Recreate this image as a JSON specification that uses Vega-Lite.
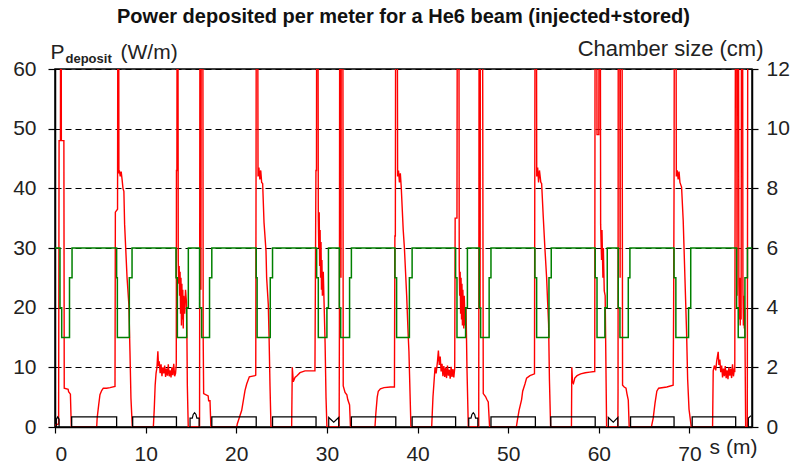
{
"$schema":"https://vega.github.io/schema/vega-lite/v6.json",
"width":697,"height":358,
"autosize":{"type":"none"},
"padding":{"left":55,"top":69,"right":44,"bottom":43},
"background":"white",
"config":{"font":"Liberation Sans","view":{"stroke":"#000","strokeWidth":1.5},
"axis":{"labelFont":"Liberation Sans","titleFont":"Liberation Sans","labelColor":"#222","titleColor":"#222","labelFontSize":21,"domainColor":"#000","tickColor":"#000","domainWidth":1.5,"tickWidth":1.2}},
"title":{"text":"Power deposited per meter for a He6 beam (injected+stored)","fontSize":20,"fontWeight":"bold","font":"Liberation Sans","color":"#111","anchor":"middle","offset":10},
"datasets":{
"red":[
{"s":0,"p":0.3},{"s":0.4,"p":0.5},{"s":0.45,"p":48},{"s":0.6,"p":48},{"s":0.62,"p":90},{"s":0.68,"p":90},{"s":0.7,"p":48},{"s":0.98,"p":48},{"s":1.02,"p":6.5},{"s":1.45,"p":6.3},{"s":1.5,"p":5.9},{"s":1.7,"p":5.5},{"s":1.8,"p":0},
{"s":4.6,"p":0},{"s":4.65,"p":1.5},{"s":4.82,"p":3.7},{"s":4.96,"p":5.4},{"s":5.15,"p":6.1},{"s":5.33,"p":6.5},{"s":5.7,"p":6.5},{"s":6.07,"p":6.6},{"s":6.62,"p":6.8},
{"s":6.66,"p":36},{"s":6.9,"p":36.5},{"s":6.95,"p":90},{"s":7.02,"p":90},{"s":7.05,"p":42.5},{"s":7.1,"p":43},{"s":7.2,"p":42},{"s":7.3,"p":42.8},{"s":7.4,"p":41.5},{"s":7.5,"p":40},{"s":7.6,"p":39.5},{"s":7.68,"p":34},{"s":7.8,"p":30},{"s":7.95,"p":25},{"s":8.15,"p":20.5},{"s":8.27,"p":12.7},{"s":8.38,"p":4.8},{"s":8.53,"p":0},
{"s":10.85,"p":0},{"s":10.95,"p":3},{"s":11.05,"p":7},{"s":11.15,"p":9},{"s":11.25,"p":10},{"s":11.35,"p":12.7},{"s":11.42,"p":10.2},{"s":11.5,"p":11},{"s":11.6,"p":9},{"s":11.7,"p":10.5},{"s":11.8,"p":8.5},{"s":11.9,"p":10},{"s":12.0,"p":9},{"s":12.1,"p":10.3},{"s":12.2,"p":8.4},{"s":12.3,"p":9.8},{"s":12.4,"p":8.6},{"s":12.5,"p":10.5},{"s":12.6,"p":8.5},{"s":12.7,"p":9.5},{"s":12.8,"p":8.3},{"s":12.9,"p":10},{"s":13.0,"p":8.7},{"s":13.1,"p":10.6},{"s":13.2,"p":8.5},{"s":13.3,"p":9},{"s":13.38,"p":10.5},
{"s":13.4,"p":43},{"s":13.45,"p":43},{"s":13.48,"p":90},{"s":13.55,"p":90},{"s":13.6,"p":28},{"s":13.65,"p":24},{"s":13.7,"p":27},{"s":13.75,"p":22},{"s":13.8,"p":26},{"s":13.85,"p":19},{"s":13.9,"p":25},{"s":13.95,"p":17},{"s":14.0,"p":24},{"s":14.05,"p":18},{"s":14.1,"p":23},{"s":14.15,"p":16.5},{"s":14.2,"p":22},{"s":14.3,"p":19},{"s":14.4,"p":23},{"s":14.5,"p":21},{"s":14.55,"p":16},{"s":14.6,"p":7},{"s":14.7,"p":0},
{"s":15.95,"p":0},{"s":16.0,"p":90},{"s":16.05,"p":90},{"s":16.1,"p":23},{"s":16.15,"p":90},{"s":16.3,"p":90},{"s":16.35,"p":15},{"s":16.4,"p":5.6},{"s":16.9,"p":5.2},{"s":16.95,"p":4.4},{"s":17.1,"p":4.4},{"s":17.2,"p":0},
{"s":20.05,"p":0},{"s":20.11,"p":0.5},{"s":20.6,"p":2.8},{"s":20.96,"p":6.1},{"s":21.15,"p":7.2},{"s":21.44,"p":8.4},{"s":22.06,"p":8.6},{"s":22.15,"p":8.7},
{"s":22.18,"p":40},{"s":22.22,"p":90},{"s":22.35,"p":90},{"s":22.4,"p":42},{"s":22.5,"p":43.5},{"s":22.6,"p":41.5},{"s":22.7,"p":43},{"s":22.8,"p":41},{"s":22.91,"p":40.8},{"s":23.06,"p":34.3},{"s":23.28,"p":29.5},{"s":23.35,"p":25},{"s":23.53,"p":20.6},{"s":23.62,"p":15},{"s":23.72,"p":7},{"s":23.83,"p":0},
{"s":26.11,"p":0},{"s":26.18,"p":10},{"s":26.29,"p":7.6},{"s":26.48,"p":8.3},{"s":26.7,"p":8.6},{"s":27.03,"p":9.1},{"s":27.58,"p":9.4},{"s":28.68,"p":9.4},
{"s":28.79,"p":43},{"s":28.85,"p":43},{"s":28.88,"p":90},{"s":29.0,"p":90},{"s":29.05,"p":35},{"s":29.1,"p":30},{"s":29.15,"p":36},{"s":29.2,"p":27},{"s":29.25,"p":33},{"s":29.3,"p":25},{"s":29.35,"p":31},{"s":29.4,"p":23},{"s":29.45,"p":28},{"s":29.5,"p":22},{"s":29.6,"p":26},{"s":29.7,"p":20},{"s":29.8,"p":14},{"s":29.9,"p":5},{"s":30.0,"p":0},
{"s":31.35,"p":0},{"s":31.38,"p":17},{"s":31.42,"p":90},{"s":31.5,"p":90},{"s":31.55,"p":25},{"s":31.6,"p":90},{"s":31.75,"p":90},{"s":31.8,"p":6.9},{"s":32.0,"p":5.8},{"s":32.2,"p":5.4},{"s":32.3,"p":4.6},{"s":32.5,"p":3.7},{"s":32.6,"p":0},
{"s":35.3,"p":0},{"s":35.4,"p":2.3},{"s":35.55,"p":5},{"s":35.67,"p":6.0},{"s":35.9,"p":6.4},{"s":36.3,"p":6.6},{"s":37.0,"p":6.7},{"s":37.45,"p":6.7},
{"s":37.5,"p":32},{"s":37.55,"p":32},{"s":37.6,"p":90},{"s":37.75,"p":90},{"s":37.8,"p":42},{"s":37.9,"p":43},{"s":38.0,"p":41},{"s":38.1,"p":42.5},{"s":38.2,"p":40.2},{"s":38.42,"p":33},{"s":38.55,"p":30},{"s":38.8,"p":22},{"s":38.95,"p":16},{"s":39.05,"p":12.6},{"s":39.27,"p":0},
{"s":41.56,"p":0},{"s":41.7,"p":5},{"s":41.93,"p":10},{"s":42.05,"p":9},{"s":42.2,"p":11},{"s":42.3,"p":12.8},{"s":42.4,"p":10.4},{"s":42.5,"p":11.8},{"s":42.6,"p":9.3},{"s":42.7,"p":10.6},{"s":42.8,"p":8.5},{"s":42.9,"p":10.2},{"s":43.0,"p":8.4},{"s":43.1,"p":9.9},{"s":43.2,"p":8.2},{"s":43.3,"p":10.3},{"s":43.4,"p":8.6},{"s":43.5,"p":9.6},{"s":43.6,"p":8.1},{"s":43.7,"p":10.1},{"s":43.8,"p":8.4},{"s":43.9,"p":9.7},{"s":44.0,"p":8.3},{"s":44.1,"p":9.8},
{"s":44.15,"p":35},{"s":44.35,"p":35},{"s":44.4,"p":90},{"s":44.55,"p":90},{"s":44.6,"p":27},{"s":44.65,"p":22},{"s":44.7,"p":26},{"s":44.75,"p":19},{"s":44.8,"p":25},{"s":44.85,"p":18},{"s":44.9,"p":24},{"s":44.95,"p":17},{"s":45.0,"p":23},{"s":45.1,"p":16.5},{"s":45.15,"p":22},{"s":45.25,"p":17},{"s":45.35,"p":20},{"s":45.45,"p":10},{"s":45.6,"p":0},
{"s":46.75,"p":0},{"s":46.8,"p":90},{"s":46.85,"p":90},{"s":46.9,"p":20},{"s":46.95,"p":90},{"s":47.15,"p":90},{"s":47.25,"p":5.6},{"s":47.5,"p":5.1},{"s":47.65,"p":4.6},{"s":47.8,"p":4.2},{"s":47.95,"p":0},
{"s":50.9,"p":0},{"s":51.0,"p":1},{"s":51.2,"p":2.8},{"s":51.48,"p":4.6},{"s":51.6,"p":6},{"s":51.85,"p":7.2},{"s":52.03,"p":8.2},{"s":52.4,"p":8.6},{"s":52.9,"p":8.9},
{"s":52.93,"p":36},{"s":52.98,"p":90},{"s":53.1,"p":90},{"s":53.15,"p":42},{"s":53.25,"p":43.5},{"s":53.35,"p":41},{"s":53.45,"p":43},{"s":53.6,"p":41},{"s":53.69,"p":40.8},{"s":53.87,"p":35.2},{"s":54.05,"p":30},{"s":54.24,"p":25},{"s":54.35,"p":21},{"s":54.46,"p":17.2},{"s":54.55,"p":8},{"s":54.68,"p":0},
{"s":56.98,"p":0},{"s":57.02,"p":10},{"s":57.1,"p":7.5},{"s":57.2,"p":7.3},{"s":57.35,"p":8.2},{"s":57.6,"p":8.6},{"s":58.0,"p":8.9},{"s":58.5,"p":9.1},{"s":59.0,"p":9.2},{"s":59.5,"p":9.3},
{"s":59.55,"p":9.3},{"s":59.6,"p":90},{"s":59.75,"p":90},{"s":59.8,"p":49},{"s":60.0,"p":49},{"s":60.05,"p":90},{"s":60.15,"p":90},{"s":60.2,"p":34},{"s":60.3,"p":28},{"s":60.35,"p":33},{"s":60.45,"p":25},{"s":60.5,"p":30},{"s":60.6,"p":22.8},{"s":60.7,"p":22},{"s":60.8,"p":8},{"s":60.86,"p":0},
{"s":62.1,"p":0},{"s":62.12,"p":6},{"s":62.15,"p":90},{"s":62.3,"p":90},{"s":62.35,"p":25},{"s":62.4,"p":90},{"s":62.55,"p":90},{"s":62.62,"p":7},{"s":62.8,"p":6.7},{"s":63.0,"p":6.5},{"s":63.1,"p":5.6},{"s":63.25,"p":4.5},{"s":63.35,"p":0},
{"s":65.8,"p":0},{"s":66.0,"p":1.5},{"s":66.2,"p":4},{"s":66.4,"p":6},{"s":66.6,"p":6.5},{"s":67.5,"p":6.7},{"s":68.2,"p":7},
{"s":68.25,"p":19},{"s":68.3,"p":40},{"s":68.35,"p":90},{"s":68.5,"p":90},{"s":68.55,"p":42},{"s":68.65,"p":43},{"s":68.75,"p":41.5},{"s":68.85,"p":42.8},{"s":68.95,"p":41},{"s":69.13,"p":40.2},{"s":69.31,"p":34.6},{"s":69.5,"p":25},{"s":69.68,"p":16},{"s":69.8,"p":8},{"s":69.95,"p":3},{"s":70.2,"p":0},
{"s":72.55,"p":0},{"s":72.62,"p":9.4},{"s":72.75,"p":10.3},{"s":72.9,"p":9.5},{"s":73.0,"p":11},{"s":73.17,"p":12.6},{"s":73.25,"p":10.4},{"s":73.35,"p":11.3},{"s":73.45,"p":9.2},{"s":73.55,"p":10.3},{"s":73.65,"p":8.3},{"s":73.75,"p":9.8},{"s":73.85,"p":8.5},{"s":73.95,"p":10.2},{"s":74.05,"p":8.2},{"s":74.15,"p":9.5},{"s":74.25,"p":8.0},{"s":74.35,"p":10},{"s":74.45,"p":8.6},{"s":74.55,"p":9.8},{"s":74.65,"p":8.2},{"s":74.75,"p":10.5},{"s":74.85,"p":8.5},{"s":74.95,"p":9.6},{"s":75.0,"p":9.5},
{"s":75.1,"p":90},{"s":75.2,"p":90},{"s":75.25,"p":22},{"s":75.3,"p":90},{"s":75.4,"p":90},{"s":75.45,"p":24},{"s":75.5,"p":18},{"s":75.55,"p":25},{"s":75.6,"p":17},{"s":75.65,"p":24},{"s":75.7,"p":18},{"s":75.75,"p":90},{"s":75.85,"p":90},{"s":75.9,"p":23},{"s":75.95,"p":17},{"s":76.0,"p":22},{"s":76.05,"p":16.5},{"s":76.1,"p":20},{"s":76.15,"p":10},{"s":76.2,"p":0},{"s":76.38,"p":0},{"s":76.45,"p":90},{"s":76.9,"p":90}
],
"green":[
{"s":0,"c":6},{"s":0.55,"c":4},{"s":0.74,"c":3},{"s":1.6,"c":5},{"s":1.88,"c":6},
{"s":6.8,"c":5},{"s":6.88,"c":3},{"s":8.2,"c":5},{"s":8.5,"c":6},
{"s":13.35,"c":5},{"s":13.5,"c":3},{"s":14.53,"c":4},{"s":14.71,"c":6},
{"s":15.95,"c":4},{"s":16.18,"c":3},{"s":17.05,"c":5},{"s":17.3,"c":6},
{"s":22.2,"c":5},{"s":22.3,"c":3},{"s":23.75,"c":5},{"s":24.0,"c":6},
{"s":28.87,"c":5},{"s":29.05,"c":3},{"s":30.0,"c":4},{"s":30.17,"c":6},
{"s":31.37,"c":4},{"s":31.52,"c":3},{"s":32.5,"c":5},{"s":32.7,"c":6},
{"s":37.51,"c":5},{"s":37.69,"c":3},{"s":39.1,"c":5},{"s":39.4,"c":6},
{"s":44.2,"c":5},{"s":44.35,"c":3},{"s":45.3,"c":4},{"s":45.5,"c":6},
{"s":46.81,"c":4},{"s":46.96,"c":3},{"s":47.9,"c":5},{"s":48.1,"c":6},
{"s":52.95,"c":5},{"s":53.14,"c":3},{"s":54.5,"c":5},{"s":54.75,"c":6},
{"s":59.6,"c":5},{"s":59.8,"c":3},{"s":60.67,"c":4},{"s":60.93,"c":6},
{"s":62.14,"c":4},{"s":62.33,"c":3},{"s":63.25,"c":5},{"s":63.43,"c":6},
{"s":68.3,"c":5},{"s":68.5,"c":3},{"s":69.9,"c":4},{"s":70.14,"c":6},
{"s":75.2,"c":4},{"s":75.38,"c":3},{"s":76.12,"c":5},{"s":76.4,"c":6},{"s":76.9,"c":6}
],
"boxes":[
{"s":1.84,"e":6.8},{"s":8.57,"e":13.4},{"s":17.3,"e":22.2},{"s":24.0,"e":28.8},{"s":32.7,"e":37.6},
{"s":39.4,"e":44.2},{"s":48.1,"e":53.0},{"s":54.7,"e":59.6},{"s":63.5,"e":68.3},{"s":70.3,"e":75.1}
],
"shapes":[
{"id":"a","s":0.15,"p":0},{"id":"a","s":0.15,"p":1.3},{"id":"a","s":0.3,"p":1.7},{"id":"a","s":0.45,"p":1.3},{"id":"a","s":0.45,"p":0},
{"id":"b","s":14.9,"p":0},{"id":"b","s":14.9,"p":1.5},{"id":"b","s":15.15,"p":1.5},{"id":"b","s":15.25,"p":2.1},{"id":"b","s":15.4,"p":2.4},{"id":"b","s":15.55,"p":2.1},{"id":"b","s":15.65,"p":1.5},{"id":"b","s":15.9,"p":1.5},{"id":"b","s":15.9,"p":0},
{"id":"c","s":30.2,"p":0},{"id":"c","s":30.2,"p":1.6},{"id":"c","s":30.75,"p":0.8},{"id":"c","s":31.3,"p":1.6},{"id":"c","s":31.3,"p":0},
{"id":"d","s":45.65,"p":0},{"id":"d","s":45.65,"p":1.5},{"id":"d","s":45.9,"p":1.5},{"id":"d","s":46.0,"p":2.1},{"id":"d","s":46.15,"p":2.4},{"id":"d","s":46.3,"p":2.1},{"id":"d","s":46.4,"p":1.5},{"id":"d","s":46.65,"p":1.5},{"id":"d","s":46.65,"p":0},
{"id":"e","s":61.05,"p":0},{"id":"e","s":61.05,"p":1.6},{"id":"e","s":61.6,"p":0.8},{"id":"e","s":62.1,"p":1.6},{"id":"e","s":62.1,"p":0},
{"id":"f","s":76.5,"p":0},{"id":"f","s":76.5,"p":1.5},{"id":"f","s":76.8,"p":1.9}
]
},
"encoding":{"x":{"field":"s","type":"quantitative","scale":{"domain":[0,76.9],"nice":false,"zero":false},
"axis":{"values":[0,10,20,30,40,50,60,70],"grid":false,"tickSize":6,"labelPadding":10,"title":"s (m)","titleX":678,"titleY":26,"titleAlign":"center","titleBaseline":"alphabetic","titleFontSize":21,"titleFontWeight":"normal"}}},
"layer":[
{"data":{"name":"red"},"mark":{"type":"line","color":"#ff0000","strokeWidth":1.4,"clip":true},
"encoding":{"y":{"field":"p","type":"quantitative","scale":{"domain":[0,60],"nice":false},
"axis":{"orient":"left","values":[0,10,20,30,40,50,60],"grid":true,"gridColor":"#000","gridDash":[6,4],"gridWidth":1,"tickSize":7,"labelPadding":12,"title":"P","titleAngle":0,"titleAlign":"left","titleBaseline":"alphabetic","titleX":-5,"titleY":-11,"titleFontSize":21,"titleFontWeight":"normal"}},
"order":{"value":null}}},
{"data":{"name":"green"},"mark":{"type":"line","color":"#008000","strokeWidth":1.5,"interpolate":"step-after","clip":true},
"encoding":{"y":{"field":"c","type":"quantitative","scale":{"domain":[0,12],"nice":false},
"axis":{"orient":"right","values":[0,2,4,6,8,10,12],"grid":false,"tickSize":6,"labelPadding":8,"title":"Chamber size (cm)","titleAngle":0,"titleAlign":"right","titleBaseline":"alphabetic","titleX":11,"titleY":-14,"titleFontSize":22,"titleFontWeight":"normal"}},
"order":{"value":null}}},
{"data":{"name":"boxes"},"mark":{"type":"rect","filled":false,"stroke":"#000","strokeWidth":1.3},
"encoding":{"x2":{"field":"e"},"y":{"datum":0,"type":"quantitative","scale":{"domain":[0,60],"nice":false},
"axis":{"orient":"left","labels":false,"ticks":false,"domain":false,"grid":false,"title":"deposit","titleAngle":0,"titleAlign":"left","titleBaseline":"alphabetic","titleX":10,"titleY":-7,"titleFontSize":13,"titleFontWeight":"bold"}},"y2":{"datum":1.7}}},
{"data":{"name":"shapes"},"mark":{"type":"line","color":"#000","strokeWidth":1.2},
"encoding":{"detail":{"field":"id"},"y":{"field":"p","type":"quantitative","scale":{"domain":[0,60],"nice":false},
"axis":{"orient":"left","labels":false,"ticks":false,"domain":false,"grid":false,"title":"(W/m)","titleAngle":0,"titleAlign":"left","titleBaseline":"alphabetic","titleX":65,"titleY":-11,"titleFontSize":21,"titleFontWeight":"normal"}},
"order":{"value":null}}}
],
"resolve":{"scale":{"y":"independent"}}
}
